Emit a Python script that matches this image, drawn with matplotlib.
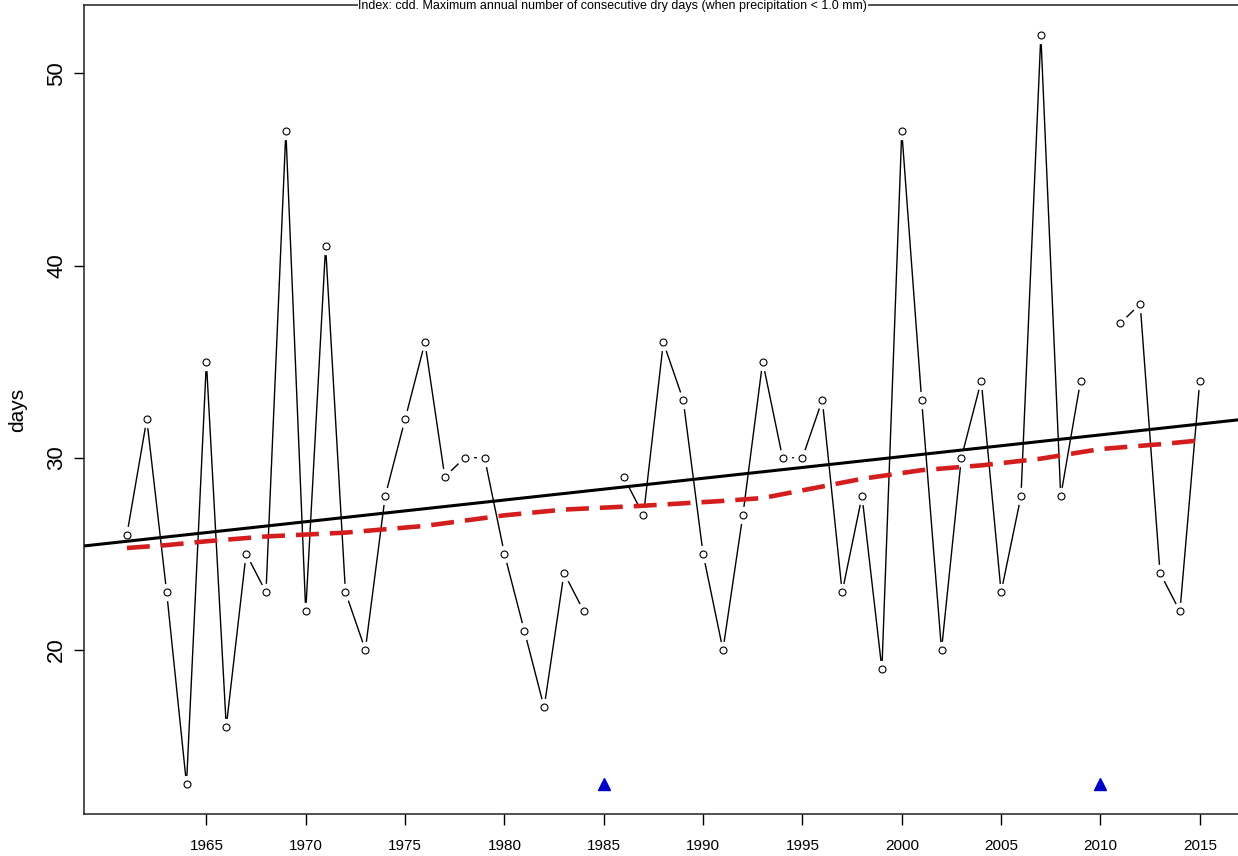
import numpy as np
import matplotlib
matplotlib.use("Agg")
import matplotlib.pyplot as plt

plt.rcParams['font.family'] = ['Liberation Sans', 'DejaVu Sans']

# cdd index, one value per year (nan = missing year)
years = np.arange(1961, 2016)
cdd = [26, 32, 23, 13, 35, 16, 25, 23, 47, 22,
       41, 23, 20, 28, 32, 36, 29, 30, 30, 25,
       21, 17, 24, 22, np.nan, 29, 27, 36, 33, 25,
       20, 27, 35, 30, 30, 33, 23, 28, 19, 47,
       33, 20, 30, 34, 23, 28, 52, 28, 34, np.nan,
       37, 38, 24, 22, 34]
cdd = np.array(cdd, dtype=float)

# smoothed curve (red dashed)
smooth_years = [1961, 1963, 1965, 1968, 1972, 1976, 1980, 1983, 1987, 1991,
                1993, 1995, 1998, 2001, 2004, 2007, 2010, 2013, 2015]
smooth_vals = [25.3, 25.45, 25.65, 25.9, 26.1, 26.45, 27.0, 27.3, 27.5, 27.75,
               27.9, 28.3, 28.9, 29.35, 29.6, 29.95, 30.45, 30.7, 30.9]

xticks = list(range(1965, 2020, 5))
yticks = [20, 30, 40, 50]
title = "Index: cdd. Maximum annual number of consecutive dry days (when precipitation < 1.0 mm)"

fig = plt.figure(figsize=(12.38, 8.56), dpi=100)
ax = fig.add_axes([0.06785, 0.04871, 0.93595, 0.94544])

ok = ~np.isnan(cdd)

# data line with R style gaps around the points
ax.plot(years, cdd, color='black', lw=1.0, zorder=2)
ax.plot(years[ok], cdd[ok], ls='none', marker='o', ms=12.5,
        mfc='white', mec='none', zorder=3)
ax.plot(years[ok], cdd[ok], ls='none', marker='o', ms=5,
        mfc='white', mec='black', mew=0.8, zorder=4)

# missing years
miss = years[~ok]
ax.plot(miss, np.full(len(miss), np.nanmin(cdd)), ls='none', marker='^',
        ms=9, color='#0000c8', zorder=4)

# linear trend
slope, icpt = np.polyfit(years[ok], cdd[ok], 1)
ax.axline((years[0], icpt + slope * years[0]), slope=slope,
          color='black', lw=2.2, zorder=5)

# smoothed
ax.plot(smooth_years, smooth_vals, color='#d41e1e', lw=3.3,
        ls=(0, (5, 2.4)), zorder=6)

ax.set_xlim(1958.84, 2017.16)
ax.set_ylim(11.44, 53.56)
ax.set_xticks(xticks)
ax.set_yticks(yticks)
ax.tick_params(axis='x', length=8, width=1, labelsize=11, pad=10)
ax.tick_params(axis='y', length=7, width=1, labelsize=16, pad=5)
for lab in ax.get_yticklabels():
    lab.set_rotation(90)
    lab.set_va('center')
ax.set_ylabel('days', fontsize=15, labelpad=14)
for s in ax.spines.values():
    s.set_linewidth(1.1)
    s.set_color('#222222')

# title sits at the very top edge, kept fully inside the figure
fig.text(0.495, 1 - 9 / 856, title, ha='center', va='baseline', fontsize=9,
         zorder=10, bbox=dict(facecolor='white', edgecolor='none', pad=0.5))

fig.savefig('out.png', dpi=100)
